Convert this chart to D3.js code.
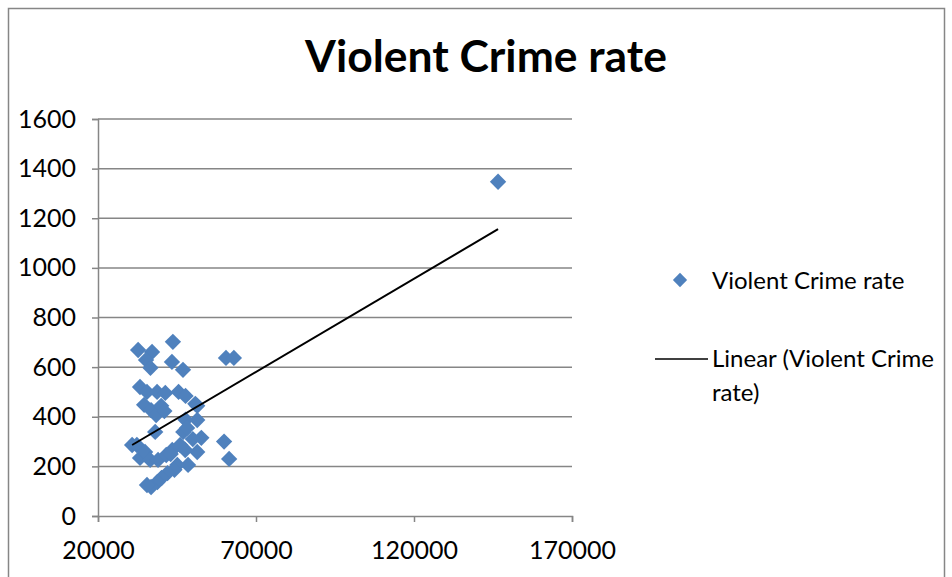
<!DOCTYPE html>
<html>
<head>
<meta charset="utf-8">
<script src="https://cdn.jsdelivr.net/npm/d3@7"></script>
<style>
  html, body { margin: 0; padding: 0; background: #fff; }
  svg { display: block; }
  text { font-family: Lato, "Open Sans", sans-serif; fill: #000; }
</style>
</head>
<body>
<svg id="chart" width="952" height="577"></svg>
<script>
// Income (x) and violent crime rate per 100k (y)
const income = [
  146600, 32700, 37100, 35200, 36600, 43700, 43400, 46900, 60500, 63000,
  33300, 35500, 38700, 41300, 45500, 47700, 50800, 51400, 34600, 36800,
  38400, 40000, 41000, 47700, 51400, 38100, 47000, 48200, 51400, 52700,
  30800, 32300, 33300, 34900, 36500, 39000, 41600, 43500, 46000, 47600,
  48500, 45100, 44200, 42000, 40100, 38800, 36800, 35500, 59900, 61500,
  50000, 43000
];
const crime = [
  1347, 669, 661, 629, 597, 702, 621, 589, 637, 637,
  520, 500, 500, 496, 500, 484, 452, 444, 448, 427,
  407, 444, 423, 388, 387, 339, 339, 355, 258, 315,
  286, 286, 234, 258, 226, 226, 246, 266, 286, 266,
  206, 206, 186, 173, 153, 137, 117, 125, 300, 230,
  310, 250
];
const xTicks = [20000, 70000, 120000, 170000];
const yTicks = [0, 200, 400, 600, 800, 1000, 1200, 1400, 1600];
const seriesName = "Violent Crime rate";
const titleText = "Violent Crime rate";
const trendName = "Linear (Violent Crime";
const trendName2 = "rate)";

const svg = d3.select("#chart");
const blue = "#4f81bd";
const gridColor = "#868686";

// outer chart frame
svg.append("rect")
  .attr("x", 8.5).attr("y", 8.5)
  .attr("width", 936).attr("height", 600)
  .attr("fill", "none").attr("stroke", "#868686").attr("stroke-width", 1.5);

const x = d3.scaleLinear().domain([20000, 170000]).range([98, 572]);
const y = d3.scaleLinear().domain([0, 1600]).range([516, 119]);

// horizontal gridlines
svg.append("g")
  .selectAll("line").data(yTicks.filter(t => t > 0)).join("line")
  .attr("x1", x(20000)).attr("x2", x(170000))
  .attr("y1", d => y(d)).attr("y2", d => y(d))
  .attr("stroke", gridColor).attr("stroke-width", 1.5);

// y axis
const yAxis = svg.append("g")
  .attr("transform", `translate(${x(20000)},0)`)
  .call(d3.axisLeft(y).tickValues(yTicks).tickSize(6).tickPadding(16).tickFormat(d3.format("d")));
// x axis
const xAxis = svg.append("g")
  .attr("transform", `translate(0,${y(0)})`)
  .call(d3.axisBottom(x).tickValues(xTicks).tickSize(6).tickPadding(19).tickFormat(d3.format("d")));

[yAxis, xAxis].forEach(g => {
  g.select(".domain").attr("stroke", gridColor).attr("stroke-width", 1.5);
  g.selectAll(".tick line").attr("stroke", gridColor).attr("stroke-width", 1.5);
  g.selectAll(".tick text").style("font-size", "25px").attr("fill", "#000");
});

// diamond markers
const diamond = d3.symbol().type(d3.symbolDiamond2).size(170);
const pts = income.map((v, i) => ({ x: v, y: crime[i] }));
svg.append("g")
  .selectAll("path").data(pts).join("path")
  .attr("d", diamond)
  .attr("transform", d => `translate(${x(d.x)},${y(d.y)})`)
  .attr("fill", blue);

// least-squares trendline across the data range
const mx = d3.mean(pts, d => d.x), my = d3.mean(pts, d => d.y);
const slope = d3.sum(pts, d => (d.x - mx) * (d.y - my)) / d3.sum(pts, d => (d.x - mx) ** 2);
const intercept = my - slope * mx;
const [x0, x1] = d3.extent(pts, d => d.x);
svg.append("line")
  .attr("x1", x(x0)).attr("y1", y(intercept + slope * x0))
  .attr("x2", x(x1)).attr("y2", y(intercept + slope * x1))
  .attr("stroke", "#000").attr("stroke-width", 2);

// title, sized to its measured width
const title = svg.append("text")
  .attr("x", 486).attr("y", 72)
  .attr("text-anchor", "middle")
  .style("font-weight", "bold").style("font-size", "38px")
  .text(titleText);
const tw = title.node().getComputedTextLength();
title.style("font-size", (38 * 362 / tw) + "px");

// legend
const legFont = "24px";
const leg = svg.append("g");
leg.append("path").attr("d", diamond.size(130)())
  .attr("transform", "translate(680,280)").attr("fill", blue);
leg.append("text").attr("x", 712).attr("y", 289).style("font-size", legFont).text(seriesName);
leg.append("line").attr("x1", 655).attr("x2", 708).attr("y1", 359).attr("y2", 359)
  .attr("stroke", "#000").attr("stroke-width", 1.5);
leg.append("text").attr("x", 712).attr("y", 367).style("font-size", legFont).text(trendName);
leg.append("text").attr("x", 712).attr("y", 401).style("font-size", legFont).text(trendName2);
</script>
</body>
</html>
